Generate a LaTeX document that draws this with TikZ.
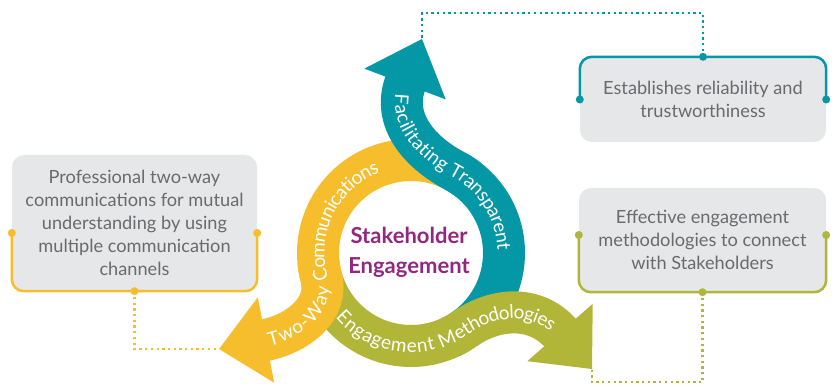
\documentclass[tikz,border=0pt]{standalone}
\usepackage{fontspec}
\setmainfont{Lato}
\usetikzlibrary{calc,decorations.text}
\definecolor{tealc}{RGB}{4,151,166}
\definecolor{yellowc}{RGB}{246,190,45}
\definecolor{olivec}{RGB}{177,181,56}
\definecolor{boxgray}{RGB}{230,231,232}
\definecolor{textgray}{RGB}{105,106,109}
\definecolor{plum}{RGB}{146,39,128}
\tikzstyle{band}=[line width=42pt]
\tikzstyle{note}=[rectangle,rounded corners=12pt,fill=boxgray,text=textgray,align=center,inner sep=0pt,font=\fontsize{18.2}{23}\selectfont]
\tikzstyle{frame}=[line width=2.5pt,rounded corners=12pt]
\tikzstyle{link}=[line width=2.3pt,dash pattern=on 2.3pt off 3.4pt]
\newcommand{\bandfont}{\fontsize{19}{20}\selectfont}

\begin{document}
\begin{tikzpicture}[x=1pt,y=1pt]
\useasboundingbox (0,0) rectangle (835,386);
\coordinate (ctr) at (411,133);
% head base and tip of each arrow
\coordinate (tB) at (405,302); \coordinate (tT) at (422,347);
\coordinate (yB) at (266,46);  \coordinate (yT) at (219,37);
\coordinate (oB) at (560,53.5); \coordinate (oT) at (592,17);

% boxes
\node[note,minimum width=246pt,minimum height=85pt] (trust) at (703,286.5) {Establishes reliability and\\trustworthiness};
\node[note,minimum width=245pt,minimum height=136pt] (comms) at (134.5,163) {Professional two-way\\communications for mutual\\understanding by using\\multiple communication\\channels};
\node[note,minimum width=247pt,minimum height=104pt] (methods) at (702.5,146) {Effective engagement\\methodologies to connect\\with Stakeholders};

\draw[frame,tealc] (trust.west) |- (trust.north) -| (trust.east);
\draw[frame,yellowc] ($(comms.west)+(0,-10)$) |- (comms.south) -| ($(comms.east)+(0,-10)$);
\draw[frame,olivec] ($(methods.west)+(0,5)$) |- (methods.south) -| ($(methods.east)+(0,5)$);
\fill[tealc] (trust.west) circle (4pt) (trust.east) circle (4pt) (trust.north) circle (4pt);
\fill[yellowc] ($(comms.west)+(0,-10)$) circle (4pt) ($(comms.east)+(0,-10)$) circle (4pt) (comms.south) circle (4pt);
\fill[olivec] ($(methods.west)+(0,5)$) circle (4pt) ($(methods.east)+(0,5)$) circle (4pt) (methods.south) circle (4pt);

% dotted links
\draw[link,tealc] (trust.north) -- ++(0,44) -| (tT);
\draw[link,yellowc] (comms.south) |- (yT);
\draw[link,olivec] (methods.south) -- ++(0,-90) -| (oT);

% ring parts
\draw[band,tealc] ($(ctr)+(305:93)$) arc[start angle=305,end angle=422,radius=93];
\draw[band,yellowc] ($(ctr)+(62:93)$) arc[start angle=62,end angle=195,radius=93];
\draw[band,olivec] ($(ctr)+(195:93)$) arc[start angle=195,end angle=305,radius=93];

% bends and heads
\draw[band,tealc,shorten >=-2pt] ($(ctr)+(52:93)$) arc[start angle=52,end angle=62,radius=93] to[out=152,in=249] (tB);
\draw[band,yellowc,shorten >=-2pt] ($(ctr)+(185:93)$) arc[start angle=185,end angle=195,radius=93] to[out=285,in=11] (yB);
\draw[band,olivec,shorten >=-2pt] ($(ctr)+(295:93)$) arc[start angle=295,end angle=305,radius=93] to[out=35,in=131] (oB);
\fill[tealc] (tT) -- ($(tB)!43.5pt!90:(tT)$) -- ($(tB)!43.5pt!-90:(tT)$) -- cycle;
\fill[yellowc] (yT) -- ($(yB)!43.5pt!90:(yT)$) -- ($(yB)!43.5pt!-90:(yT)$) -- cycle;
\fill[olivec] (oT) -- ($(oB)!43.5pt!90:(oT)$) -- ($(oB)!43.5pt!-90:(oT)$) -- cycle;

% band labels
\path[decorate,decoration={text along path,text color=white,text align=center,raise=-6.5pt,
  text={|\bandfont|Facilitating Transparent}}]
  (tB) to[out=249,in=152] ($(ctr)+(62:93)$) arc[start angle=62,end angle=-4,radius=93];
\path[decorate,decoration={text along path,text color=white,text align=center,raise=-6.5pt,
  text={|\bandfont|Two-Way Communications}}]
  (yB) to[out=11,in=285] ($(ctr)+(195:93)$) arc[start angle=195,end angle=110,radius=93];
\path[decorate,decoration={text along path,text color=white,text align=center,raise=-6.5pt,
  text={|\bandfont|Engagement Methodologies}}]
  ($(ctr)+(215:93)$) arc[start angle=215,end angle=305,radius=93] to[out=35,in=131] (oB);

\node[font=\fontsize{22}{30}\selectfont\bfseries,text=plum,align=center] (hub) at (409,134) {Stakeholder\\Engagement};
\end{tikzpicture}
\end{document}
